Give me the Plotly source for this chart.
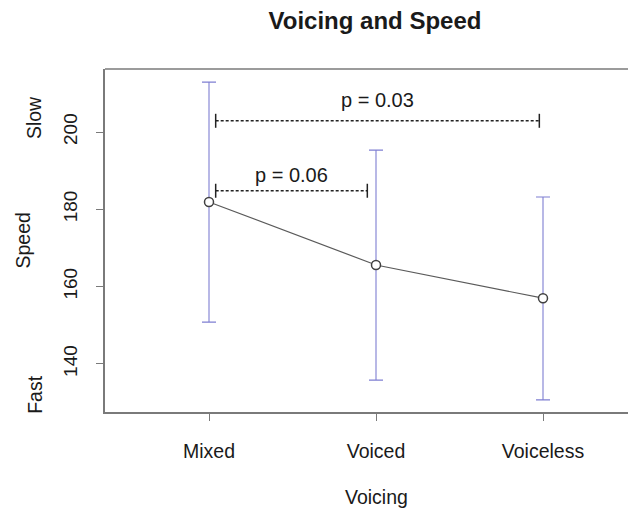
import plotly.graph_objects as go

# ---- data ----
categories = ["Mixed", "Voiced", "Voiceless"]
means = [181.9, 165.6, 157.0]
upper = [212.9, 195.3, 183.2]
lower = [150.8, 135.8, 130.7]

y_ticks = [140, 160, 180, 200]

p_labels = ["p = 0.03", "p = 0.06"]
bracket_x0 = [1.04, 1.04]
bracket_x1 = [2.978, 1.948]
bracket_y = [202.9, 184.8]
label_y = [208.3, 189.0]

# ---- figure ----
FONT = "Liberation Sans, Arial, Helvetica, sans-serif"
TXT = "#1a1a1a"
xpos = list(range(1, len(categories) + 1))
OFF = 8  # default page body margin

fig = go.Figure()

# error bars
fig.add_trace(go.Scatter(
    x=xpos, y=means, mode="markers",
    marker=dict(size=1, color="rgba(0,0,0,0)"),
    error_y=dict(type="data", symmetric=False,
                 array=[u - m for u, m in zip(upper, means)],
                 arrayminus=[m - l for m, l in zip(means, lower)],
                 color="#7f7fd2", thickness=1.1, width=7),
    hoverinfo="skip", showlegend=False))

# mean line with open circles
fig.add_trace(go.Scatter(
    x=xpos, y=means, mode="lines+markers",
    line=dict(color="#5a5a5a", width=1.2),
    marker=dict(symbol="circle", size=9, color="white",
                line=dict(color="#404040", width=1.5)),
    showlegend=False))

# significance brackets
for lab, x0, x1, yb, ly in zip(p_labels, bracket_x0, bracket_x1, bracket_y, label_y):
    fig.add_trace(go.Scatter(
        x=[x0, x1], y=[yb, yb], mode="lines+markers",
        line=dict(color="#222222", width=1.6, dash="3px,2px"),
        marker=dict(symbol="line-ns-open", size=10,
                    line=dict(color="#222222", width=1.5)),
        showlegend=False, hoverinfo="skip"))
    fig.add_annotation(x=(x0 + x1) / 2, y=ly, text=lab, showarrow=False,
                       font=dict(family=FONT, size=20, color=TXT),
                       xanchor="center", yanchor="middle")

# top border line (right side is cut off in the reference)
fig.add_shape(type="line", xref="paper", yref="paper", x0=0, x1=1.02, y0=1, y1=1,
              line=dict(color="#7a7a7a", width=1.5))

# y-axis side labels
fig.add_annotation(xref="paper", yref="paper", x=(22 - 105) / 531, y=0.5,
                   text="Speed", textangle=-90, showarrow=False,
                   font=dict(family=FONT, size=19.5, color=TXT),
                   xanchor="center", yanchor="middle")
fig.add_annotation(xref="paper", yref="y", x=(34 - 105) / 531, y=203.6,
                   text="Slow", textangle=-90, showarrow=False,
                   font=dict(family=FONT, size=19.5, color=TXT),
                   xanchor="center", yanchor="middle")
fig.add_annotation(xref="paper", yref="y", x=(35 - 105) / 531, y=132.0,
                   text="Fast", textangle=-90, showarrow=False,
                   font=dict(family=FONT, size=19.5, color=TXT),
                   xanchor="center", yanchor="middle")
# x-axis title
fig.add_annotation(xref="x", yref="paper", x=2, y=-(497 - 412) / 343,
                   text="Voicing", showarrow=False,
                   font=dict(family=FONT, size=19.5, color=TXT),
                   xanchor="center", yanchor="middle")

W, H = 636 - OFF, 513 - OFF
fig.update_layout(
    width=W, height=H,
    margin=dict(l=105 - OFF, r=0, t=69 - OFF, b=513 - 412, pad=0),
    paper_bgcolor="white", plot_bgcolor="white",
    title=dict(text="<b>Voicing and Speed</b>", xref="container", yref="container",
               x=(375 - OFF) / W, y=1 - (21 - OFF) / H, xanchor="center", yanchor="middle",
               font=dict(family=FONT, size=24, color=TXT)),
    xaxis=dict(range=[1 - 104 / 167, 3 + 93 / 167], tickmode="array",
               tickvals=xpos, ticktext=categories,
               showgrid=False, zeroline=False,
               showline=True, linecolor="#7a7a7a", linewidth=1.5,
               ticks="outside", ticklen=7, tickcolor="#7a7a7a", tickwidth=1.2,
               tickfont=dict(family=FONT, size=19.5, color=TXT),
               ticklabelstandoff=14),
    yaxis=dict(range=[127.56, 216.3], tickmode="array", tickvals=y_ticks,
               showgrid=False, zeroline=False,
               showline=True, linecolor="#7a7a7a", linewidth=1.5,
               ticks="outside", ticklen=7, tickcolor="#7a7a7a", tickwidth=1.2,
               tickangle=-90,
               tickfont=dict(family=FONT, size=19, color=TXT),
               ticklabelstandoff=12),
    showlegend=False,
)

fig.write_html("out.html")
